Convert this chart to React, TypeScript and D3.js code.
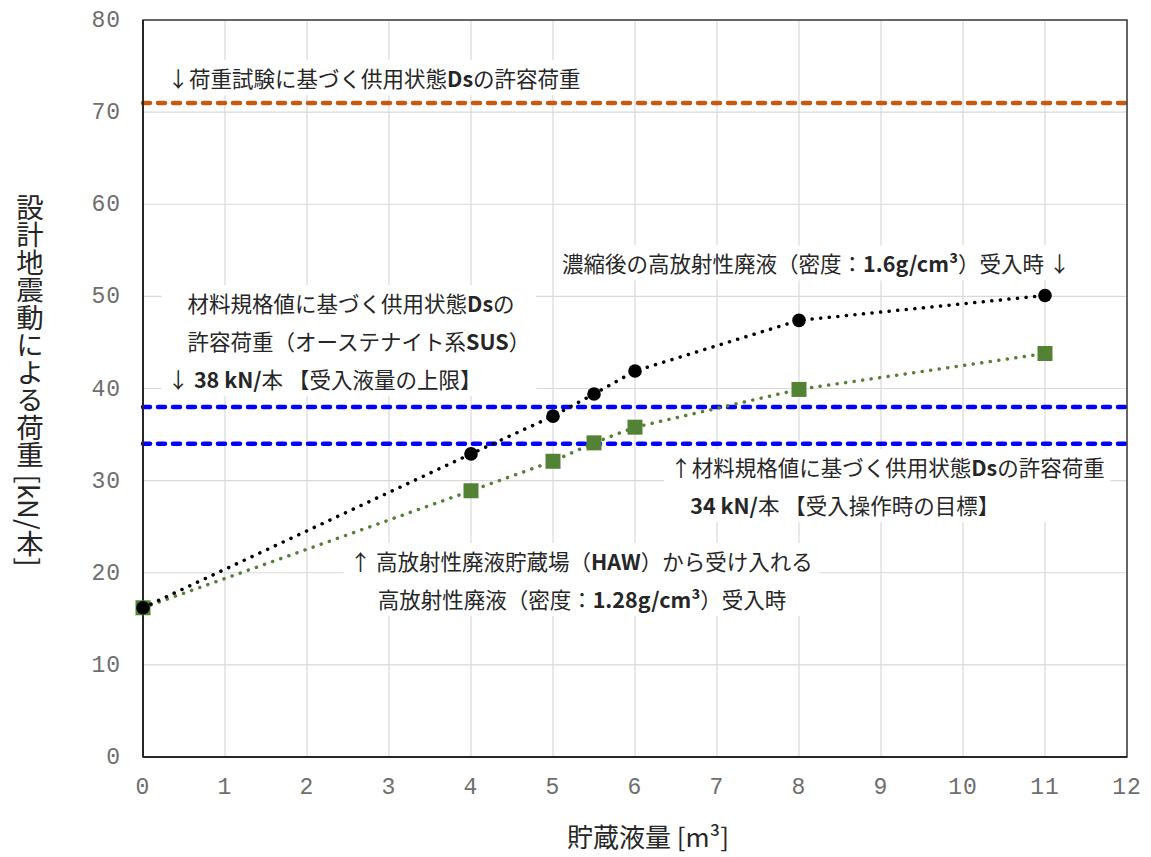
import React, { useRef, useEffect } from 'react';
import * as d3 from 'd3';

// stored volume [m3]
const volumes = [0, 4, 5, 5.5, 6, 8, 11];
// load with concentrated HLW (1.6 g/cm3)
const load16 = [16.2, 32.9, 37.0, 39.4, 41.9, 47.4, 50.1];
// load with HLW from HAW (1.28 g/cm3)
const load128 = [16.2, 28.9, 32.1, 34.1, 35.8, 39.9, 43.8];
// allowable loads [kN/本]
const limitValues = [71, 38, 34];
const limitColors = ['#c55a11', '#0000ff', '#0000ff'];

const xTickLabels = ['0', '1', '2', '3', '4', '5', '6', '7', '8', '9', '10', '11', '12'];
const yTickLabels = ['0', '10', '20', '30', '40', '50', '60', '70', '80'];

// annotation blocks: [x, y] in data units of the first baseline, lines
const notes = [
  { x: 0.3, y: 72.7, lines: [{ dx: 0, t: '↓荷重試験に基づく供用状態Dsの許容荷重' }] },
  { x: 5.11, y: 52.6, lines: [{ dx: 0, t: '濃縮後の高放射性廃液（密度：1.6g/cm³）受入時 ↓' }] },
  {
    x: 0.3, y: 48.3, lines: [
      { dx: 20, t: '材料規格値に基づく供用状態Dsの' },
      { dx: 20, t: '許容荷重（オーステナイト系SUS）' },
      { dx: 0, t: '↓ 38 kN/本 【受入液量の上限】' },
    ]
  },
  {
    x: 6.43, y: 30.5, lines: [
      { dx: 0, t: '↑材料規格値に基づく供用状態Dsの許容荷重' },
      { dx: 20, t: '34 kN/本 【受入操作時の目標】' },
    ]
  },
  {
    x: 2.52, y: 20.3, lines: [
      { dx: 0, t: '↑ 高放射性廃液貯蔵場（HAW）から受け入れる' },
      { dx: 28, t: '高放射性廃液（密度：1.28g/cm³）受入時' },
    ]
  },
];

const width = 1151;
const height = 857;
const margin = { top: 20, right: 24, bottom: 100, left: 143 };
const CJK = '"Noto Sans CJK JP", "Noto Sans", sans-serif';

function App() {
  const svgRef = useRef<SVGSVGElement>(null);

  useEffect(() => {
    const svg = d3.select(svgRef.current);
    svg.selectAll('*').remove();

    const x = d3.scaleLinear().domain([0, 12]).range([margin.left, width - margin.right]);
    const y = d3.scaleLinear().domain([0, 80]).range([height - margin.bottom, margin.top]);

    // grid
    const grid = svg.append('g').attr('stroke', '#d9d9d9').attr('stroke-width', 1.2);
    grid.selectAll('line.v').data(xTickLabels).join('line')
      .attr('x1', d => x(+d)).attr('x2', d => x(+d))
      .attr('y1', y(0)).attr('y2', y(80));
    grid.selectAll('line.h').data(yTickLabels).join('line')
      .attr('class', 'h')
      .attr('y1', d => y(+d)).attr('y2', d => y(+d))
      .attr('x1', x(0)).attr('x2', x(12));

    // annotations with white boxes
    const noteG = svg.append('g');
    notes.forEach(n => {
      const g = noteG.append('g');
      const txt = g.append('text')
        .attr('font-family', CJK)
        .attr('font-size', 21.5)
        .attr('fill', '#262626');
      n.lines.forEach((ln, i) => {
        const lineT = txt.append('tspan')
          .attr('x', x(n.x) + ln.dx)
          .attr('y', y(n.y) + i * 38);
        const parts = ln.t.split(/([A-Za-z0-9.\/³]+(?: [A-Za-z0-9.\/³]+)*)/);
        parts.forEach(p => {
          if (!p) return;
          const bold = /[A-Za-z0-9]/.test(p);
          lineT.append('tspan')
            .attr('font-weight', bold ? 600 : 400)
            .text(p);
        });
      });
      const bb = (txt.node() as SVGTextElement).getBBox();
      g.insert('rect', 'text')
        .attr('x', bb.x - 6).attr('y', bb.y - 2)
        .attr('width', bb.width + 12).attr('height', bb.height + 4)
        .attr('fill', '#fff');
    });

    // limit lines
    svg.append('g').selectAll('line').data(limitValues).join('line')
      .attr('x1', x(0)).attr('x2', x(12))
      .attr('y1', d => y(d)).attr('y2', d => y(d))
      .attr('stroke', (d, i) => limitColors[i])
      .attr('stroke-width', 4.5)
      .attr('stroke-dasharray', '7 8')
      .attr('stroke-linecap', 'round');

    // frame
    svg.append('rect')
      .attr('x', x(0)).attr('y', y(80))
      .attr('width', x(12) - x(0)).attr('height', y(0) - y(80))
      .attr('fill', 'none').attr('stroke', '#3a3a3a').attr('stroke-width', 1.5);
    svg.append('line')
      .attr('x1', x(0)).attr('x2', x(0)).attr('y1', y(0)).attr('y2', y(80))
      .attr('stroke', '#262626').attr('stroke-width', 2);
    svg.append('line')
      .attr('x1', x(0)).attr('x2', x(12)).attr('y1', y(0)).attr('y2', y(0))
      .attr('stroke', '#262626').attr('stroke-width', 2);

    const line = d3.line<number>().x((d, i) => x(volumes[i])).y(d => y(d));

    // green series (1.28)
    svg.append('path').datum(load128)
      .attr('d', line)
      .attr('fill', 'none').attr('stroke', '#548235')
      .attr('stroke-width', 3.5).attr('stroke-dasharray', '0.1 8.5')
      .attr('stroke-linecap', 'round');
    svg.append('g').selectAll('rect').data(load128).join('rect')
      .attr('x', (d, i) => x(volumes[i]) - 7.5).attr('y', d => y(d) - 7.5)
      .attr('width', 15).attr('height', 15)
      .attr('fill', '#548235');

    // black series (1.6)
    svg.append('path').datum(load16)
      .attr('d', line)
      .attr('fill', 'none').attr('stroke', '#000')
      .attr('stroke-width', 3.5).attr('stroke-dasharray', '0.1 8.5')
      .attr('stroke-linecap', 'round');
    svg.append('g').selectAll('circle').data(load16).join('circle')
      .attr('cx', (d, i) => x(volumes[i])).attr('cy', d => y(d))
      .attr('r', 6.8).attr('fill', '#000');

    // tick labels
    svg.append('g').selectAll('text').data(xTickLabels).join('text')
      .attr('x', d => x(+d)).attr('y', y(0) + 37)
      .attr('text-anchor', 'middle')
      .attr('font-family', '"Liberation Mono", monospace')
      .attr('font-size', 23).attr('letter-spacing', 1)
      .attr('fill', '#6e6e6e')
      .text(d => d);
    svg.append('g').selectAll('text').data(yTickLabels).join('text')
      .attr('x', x(0) - 22).attr('y', d => y(+d) + 7)
      .attr('text-anchor', 'end')
      .attr('font-family', '"Liberation Mono", monospace')
      .attr('font-size', 23).attr('letter-spacing', 1)
      .attr('fill', '#6e6e6e')
      .text(d => d);

    // axis titles
    svg.append('text')
      .attr('x', 648).attr('y', 847)
      .attr('text-anchor', 'middle')
      .attr('font-family', CJK).attr('font-size', 26).attr('fill', '#262626')
      .text('貯蔵液量 [m³]');
    svg.append('text')
      .attr('x', 30).attr('y', 380)
      .attr('text-anchor', 'middle')
      .style('writing-mode', 'vertical-rl')
      .attr('font-family', CJK).attr('font-size', 27.5).attr('fill', '#262626')
      .text('設計地震動による荷重 [kN/本]');
  }, []);

  return (
    <svg ref={svgRef} width={width} height={height}
      style={{ position: 'absolute', left: 0, top: 0, background: '#fff' }} />
  );
}

export default App;
